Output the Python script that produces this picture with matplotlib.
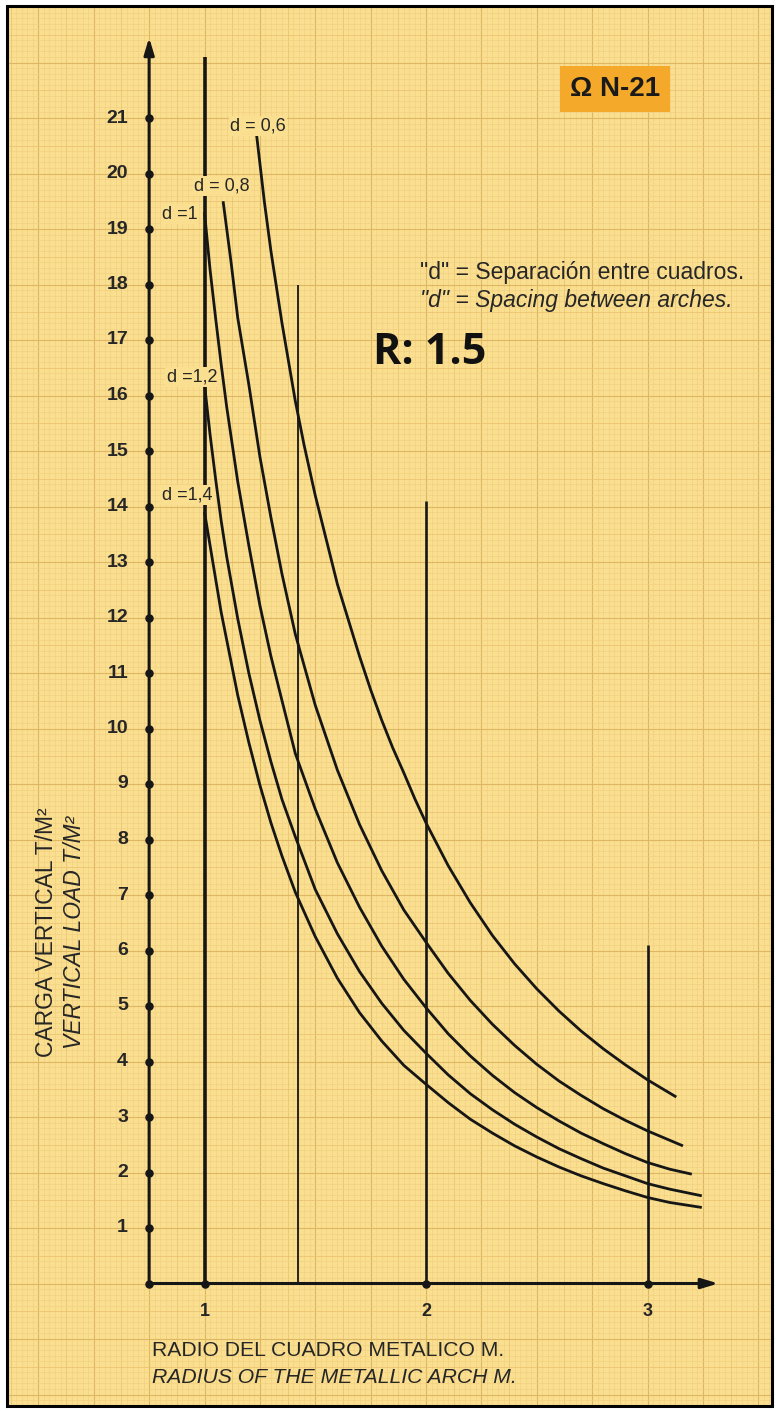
import numpy as np
import matplotlib
matplotlib.use("Agg")
import matplotlib.pyplot as plt
from matplotlib.patches import Rectangle

# ---------------- data ----------------
curve_labels = ["d = 0,6", "d = 0,8", "d =1", "d =1,2", "d =1,4"]

x_d06 = [1.235, 1.27, 1.30, 1.35, 1.41, 1.45, 1.50, 1.55, 1.60, 1.65, 1.70, 1.75, 1.80, 1.85,
         1.90, 1.95, 2.00, 2.10, 2.20, 2.30, 2.40, 2.50, 2.60, 2.70, 2.80, 2.90, 3.00, 3.13]
y_d06 = [20.7, 19.5, 18.6, 17.3, 15.9, 15.1, 14.2, 13.4, 12.6, 11.95, 11.3, 10.7, 10.15, 9.65,
         9.2, 8.73, 8.3, 7.53, 6.86, 6.27, 5.76, 5.31, 4.91, 4.55, 4.23, 3.94, 3.67, 3.36]

x_d08 = [1.084, 1.12, 1.15, 1.20, 1.25, 1.30, 1.35, 1.41, 1.50, 1.60, 1.70, 1.80, 1.90, 2.00,
         2.10, 2.20, 2.30, 2.40, 2.50, 2.60, 2.70, 2.80, 2.90, 3.00, 3.16]
y_d08 = [19.5, 18.4, 17.4, 16.2, 14.9, 13.8, 12.78, 11.7, 10.42, 9.25, 8.27, 7.44, 6.73, 6.15,
         5.59, 5.1, 4.67, 4.29, 3.95, 3.65, 3.39, 3.15, 2.94, 2.75, 2.48]

x_d10 = [1.0, 1.025, 1.05, 1.075, 1.10, 1.15, 1.20, 1.25, 1.30, 1.35, 1.41, 1.50, 1.60, 1.70,
         1.80, 1.90, 2.00, 2.10, 2.20, 2.30, 2.40, 2.50, 2.60, 2.70, 2.80, 2.90, 3.00, 3.10, 3.20]
y_d10 = [19.3, 18.27, 17.4, 16.57, 15.8, 14.45, 13.3, 12.22, 11.3, 10.5, 9.55, 8.55, 7.58, 6.78,
         6.08, 5.48, 4.97, 4.5, 4.1, 3.75, 3.44, 3.17, 2.93, 2.71, 2.52, 2.34, 2.18, 2.06, 1.97]

x_d12 = [1.0, 1.025, 1.05, 1.075, 1.10, 1.15, 1.20, 1.25, 1.30, 1.35, 1.41, 1.50, 1.60, 1.70,
         1.80, 1.90, 2.00, 2.10, 2.20, 2.30, 2.40, 2.50, 2.60, 2.70, 2.80, 2.90, 3.00, 3.10, 3.245]
y_d12 = [16.2, 15.3, 14.5, 13.75, 13.1, 11.98, 11.0, 10.15, 9.4, 8.72, 8.05, 7.1, 6.3, 5.62,
         5.05, 4.56, 4.15, 3.76, 3.42, 3.13, 2.87, 2.64, 2.43, 2.25, 2.08, 1.94, 1.80, 1.70, 1.58]

x_d14 = [1.0, 1.025, 1.05, 1.075, 1.10, 1.15, 1.20, 1.25, 1.30, 1.35, 1.41, 1.50, 1.60, 1.70,
         1.80, 1.90, 2.00, 2.10, 2.20, 2.30, 2.40, 2.50, 2.60, 2.70, 2.80, 2.90, 3.00, 3.10, 3.245]
y_d14 = [13.9, 13.3, 12.7, 12.1, 11.6, 10.6, 9.75, 8.98, 8.3, 7.7, 7.05, 6.25, 5.5, 4.88,
         4.37, 3.93, 3.59, 3.26, 2.96, 2.71, 2.48, 2.28, 2.10, 1.94, 1.80, 1.67, 1.55, 1.46, 1.37]

# vertical reference lines: x position and top value
vline_x = [1.0, 1.42, 2.0, 3.0]
vline_top = [22.1, 18.0, 14.1, 6.1]

y_ticks = list(range(1, 22))
x_ticks = [1, 2, 3]
x_origin = 0.75

title_box = "Ω N-21"
r_text = "R: 1.5"
note_lines = ['"d" = Separación entre cuadros.', '"d" = Spacing between arches.']
ylabel_lines = ["CARGA VERTICAL T/M²", "VERTICAL LOAD T/M²"]
xlabel_lines = ["RADIO DEL CUADRO METALICO M.", "RADIUS OF THE METALLIC ARCH M."]

# ---------------- figure ----------------
W, H = 776, 1411
fig = plt.figure(figsize=(W / 100, H / 100), dpi=100)
fig.patch.set_facecolor("white")

# pixel mapping: x=1 at 204.5 px, 221.5 px per unit; y=0 at 1283.5 px, 55.5 px per unit
ux, x1px = 221.5, 204.5
uy, y0px = 55.5, 1283.5
xmin = 1 - x1px / ux
xmax = 1 + (W - x1px) / ux
ymin = -(H - y0px) / uy
ymax = y0px / uy

ax = fig.add_axes([0, 0, 1, 1])
ax.set_xlim(xmin, xmax)
ax.set_ylim(ymin, ymax)
ax.axis("off")


def px2x(p):
    return 1 + (p - x1px) / ux


def px2y(p):
    return (y0px - p) / uy


paper = "#FADF90"
bx0, by0, bx1, by1 = 7, 6, 772, 1406  # border in pixels
gx0, gx1 = px2x(bx0), px2x(bx1)
gy0, gy1 = px2y(by1), px2y(by0)

ax.add_patch(Rectangle((gx0, gy0), gx1 - gx0, gy1 - gy0,
                       facecolor=paper, edgecolor="none", zorder=0))


# graph paper grid
def grid_style(k):
    if k % 10 == 0:
        return "#DFB662", 0.8
    if k % 5 == 0:
        return "#E9C270", 0.55
    return "#F0CE7E", 0.4


kx = np.arange(np.ceil((gx0 - x_origin) / 0.025), np.floor((gx1 - x_origin) / 0.025) + 1).astype(int)
for k in kx:
    xv = x_origin + k * 0.025
    c, lw = grid_style(k)
    ax.plot([xv, xv], [gy0, gy1], color=c, lw=lw, zorder=1)
ky = np.arange(np.ceil(gy0 / 0.1), np.floor(gy1 / 0.1) + 1).astype(int)
for k in ky:
    yv = k * 0.1
    c, lw = grid_style(k)
    ax.plot([gx0, gx1], [yv, yv], color=c, lw=lw, zorder=1)

# border
ax.add_patch(Rectangle((gx0, gy0), gx1 - gx0, gy1 - gy0,
                       facecolor="none", edgecolor="black", lw=2.2, zorder=10))

ink = "#161616"
txt = "#262626"

# vertical reference lines
for xv, top in zip(vline_x, vline_top):
    lw = 2.6 if xv == 1.0 else (1.3 if xv == 1.42 else 1.9)
    ax.plot([xv, xv], [0, top], color=ink, lw=lw, zorder=3, solid_capstyle="butt")

# axes with arrows
ax.annotate("", xy=(x_origin, 22.45), xytext=(x_origin, 0),
            arrowprops=dict(arrowstyle="-|>,head_length=1.0,head_width=0.3", color=ink, lw=2.2,
                            shrinkA=0, shrinkB=0), zorder=4)
ax.annotate("", xy=(3.32, 0), xytext=(x_origin, 0),
            arrowprops=dict(arrowstyle="-|>,head_length=1.0,head_width=0.3", color=ink, lw=2.2,
                            shrinkA=0, shrinkB=0), zorder=4)

# tick dots
ax.scatter([x_origin] * len(y_ticks), y_ticks, s=26, color=ink, zorder=5)
ax.scatter([x_origin] + x_ticks, [0] * (len(x_ticks) + 1), s=26, color=ink, zorder=5)

sans = ["Liberation Sans Narrow", "Liberation Sans", "DejaVu Sans"]

for yv in y_ticks:
    ax.text(0.655, yv, str(yv), ha="right", va="center", fontsize=14, fontweight="bold",
            family=sans, color=txt, zorder=6)
for xv in x_ticks:
    ax.text(xv, -0.5, str(xv), ha="center", va="center", fontsize=13, fontweight="bold",
            family=sans, color=txt, zorder=6)

# curves
curves = [(x_d06, y_d06), (x_d08, y_d08), (x_d10, y_d10), (x_d12, y_d12), (x_d14, y_d14)]
for cx, cy in curves:
    ax.plot(cx, cy, color=ink, lw=2.0, zorder=4, solid_capstyle="butt", solid_joinstyle="round")

label_pos = [(1.2415, 20.86), (1.079, 19.77), (0.889, 19.27), (0.944, 16.33), (0.921, 14.21)]
for lab, (lx, ly) in zip(curve_labels, label_pos):
    ax.text(lx, ly, lab, ha="center", va="center", fontsize=13, family=sans,
            color=txt, zorder=6,
            bbox=dict(boxstyle="square,pad=0.08", facecolor=paper, edgecolor="none"))

# title box
ax.text(2.854, 21.52, title_box, ha="center", va="center", fontsize=20, fontweight="bold",
        family=["Liberation Sans", "DejaVu Sans"], color="#1a1a1a", zorder=7,
        bbox=dict(boxstyle="square,pad=0.36", facecolor="#F4A92A", edgecolor="none"))

# R label
ax.text(2.018, 16.78, r_text, ha="center", va="center", fontsize=31, fontweight="bold",
        family=["Open Sans", "DejaVu Sans"], color="#111111", zorder=7)

# notes
ax.text(1.973, 18.22, note_lines[0], ha="left", va="center", fontsize=16.5, family=sans,
        color=txt, zorder=6)
ax.text(1.973, 17.72, note_lines[1], ha="left", va="center", fontsize=16.5, family=sans,
        style="italic", color=txt, zorder=6)

# axis labels
ax.text(0.286, 6.33, ylabel_lines[0], rotation=90, ha="center", va="center", fontsize=16.5,
        family=sans, color=txt, zorder=6)
ax.text(0.415, 6.33, ylabel_lines[1], rotation=90, ha="center", va="center", fontsize=16.5,
        family=sans, style="italic", color=txt, zorder=6)
ax.text(0.761, -1.2, xlabel_lines[0], ha="left", va="center", fontsize=15.2,
        family=sans, color=txt, zorder=6)
ax.text(0.761, -1.70, xlabel_lines[1], ha="left", va="center", fontsize=15.2,
        family=sans, style="italic", color=txt, zorder=6)

fig.savefig("out.png", dpi=100, facecolor=fig.get_facecolor())
